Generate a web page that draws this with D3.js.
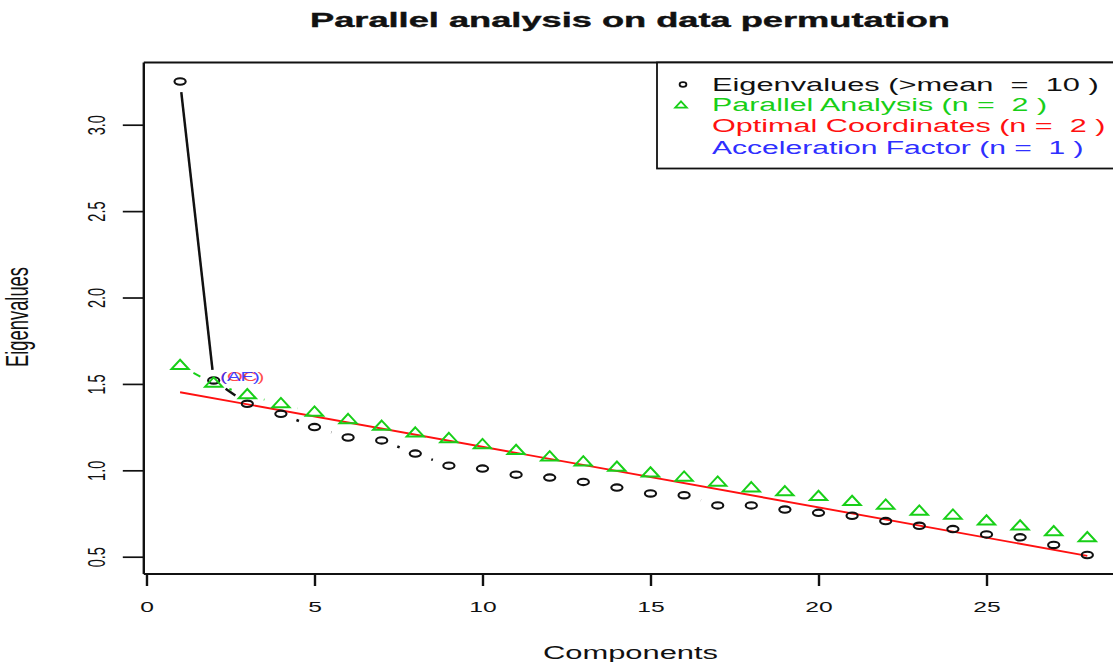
<!DOCTYPE html>
<html>
<head>
<meta charset="utf-8">
<script src="https://cdn.jsdelivr.net/npm/d3@7"></script>
<style>
  html, body { margin: 0; padding: 0; background: #fff; }
  svg { display: block; font-family: "Liberation Sans", Arial, sans-serif; }
  text { white-space: pre; }
</style>
</head>
<body>
<svg id="chart" width="1113" height="662"></svg>
<script>
// Scree data: observed eigenvalues and parallel-analysis means per component
const components = [1,2,3,4,5,6,7,8,9,10,11,12,13,14,15,16,17,18,19,20,21,22,23,24,25,26,27,28];
const eigenvalues = [3.25, 1.52, 1.385, 1.327, 1.25, 1.19, 1.173, 1.097, 1.027, 1.01,
                     0.975, 0.958, 0.933, 0.90, 0.866, 0.856, 0.797, 0.797, 0.773, 0.754,
                     0.737, 0.706, 0.679, 0.66, 0.629, 0.612, 0.568, 0.51];
const parallelAnalysis = [1.604, 1.502, 1.435, 1.383, 1.334, 1.291, 1.252, 1.213, 1.181, 1.146,
                          1.112, 1.075, 1.046, 1.015, 0.982, 0.958, 0.929, 0.896, 0.873, 0.846,
                          0.817, 0.796, 0.761, 0.738, 0.704, 0.675, 0.642, 0.607];
// Optimal-coordinates prediction line (end points)
const ocLineX = [1, 28];
const ocLineY = [1.452, 0.505];
// Position of the OC / AF annotations (component 2)
const noteComponent = 2;
const noteLabels = ["(OC)", "(AF)"];

const xTicks = [0, 5, 10, 15, 20, 25];
const yTicks = [0.5, 1.0, 1.5, 2.0, 2.5, 3.0];
const yTickLabels = ["0.5", "1.0", "1.5", "2.0", "2.5", "3.0"];

const titleText = "Parallel analysis on data permutation";
const xLabel = "Components";
const yLabel = "Eigenvalues";
const legendLabels = ["Eigenvalues (>mean  =  10 )", "Parallel Analysis (n =  2 )",
                      "Optimal Coordinates (n =  2 )", "Acceleration Factor (n =  1 )"];

// ---- layout ----
const SX = 1.7;                 // horizontal stretch of glyphs
const INK = "#111";
const GREEN = "#18cf18";
const RED = "#ff1010";
const BLUE = "#2f2fff";
const plot = { left: 143.8, right: 1123.6, top: 62.5, bottom: 574 };

const svg = d3.select("#chart");

const x = d3.scaleLinear().domain([-0.08, 29.08]).range([plot.left, plot.right]);
const y = d3.scaleLinear().domain([0.40, 3.36]).range([plot.bottom, plot.top]);

// connector segments with gaps around each point (type = "b")
function gappedSegments(pts, gap, sx) {
  const segs = [];
  for (let i = 0; i < pts.length - 1; i++) {
    const [x0, y0] = pts[i], [x1, y1] = pts[i + 1];
    const dx = x1 - x0, dy = y1 - y0;
    const d = Math.hypot(dx / sx, dy);
    if (d <= 2 * gap) continue;
    const t = gap / d;
    segs.push([x0 + dx * t, y0 + dy * t, x1 - dx * t, y1 - dy * t]);
  }
  return segs;
}

const eigPts = components.map((c, i) => [x(c), y(eigenvalues[i])]);
const paPts = components.map((c, i) => [x(c), y(parallelAnalysis[i])]);

// eigenvalue connectors
svg.append("g").selectAll("line")
  .data(gappedSegments(eigPts, 10.6, 1.8)).join("line")
  .attr("x1", d => d[0]).attr("y1", d => d[1]).attr("x2", d => d[2]).attr("y2", d => d[3])
  .attr("stroke", INK).attr("stroke-width", 2.5);

// parallel-analysis connectors
svg.append("g").selectAll("line")
  .data(gappedSegments(paPts, 10.2, 1.8)).join("line")
  .attr("x1", d => d[0]).attr("y1", d => d[1]).attr("x2", d => d[2]).attr("y2", d => d[3])
  .attr("stroke", GREEN).attr("stroke-width", 2);

// optimal coordinates line
svg.append("line")
  .attr("x1", x(ocLineX[0])).attr("y1", y(ocLineY[0]))
  .attr("x2", x(ocLineX[1])).attr("y2", y(ocLineY[1]))
  .attr("stroke", RED).attr("stroke-width", 1.9);

// eigenvalue markers (open circles)
svg.append("g").selectAll("ellipse")
  .data(components).join("ellipse")
  .attr("cx", d => x(d)).attr("cy", (d, i) => y(eigenvalues[i]))
  .attr("rx", 5.6).attr("ry", 3.2)
  .attr("fill", "none").attr("stroke", INK).attr("stroke-width", 2.1);

// parallel-analysis markers (open triangles)
const triPath = "M0,-6.2L8.6,3.1L-8.6,3.1Z";
svg.append("g").selectAll("path")
  .data(components).join("path")
  .attr("d", triPath)
  .attr("transform", (d, i) => `translate(${x(d)},${y(parallelAnalysis[i])})`)
  .attr("fill", "none").attr("stroke", GREEN).attr("stroke-width", 2);

// OC / AF annotations, drawn on top of each other
const noteX = x(noteComponent) + 6.5;
const noteY = y(eigenvalues[noteComponent - 1]) + 1;
[RED, BLUE].forEach((col, k) => {
  svg.append("text")
    .attr("transform", `translate(${noteX},${noteY}) scale(${SX},1)`)
    .attr("font-size", 12).attr("fill", col).attr("opacity", k ? 0.9 : 0.75)
    .text(noteLabels[k]);
});

// ---- axes ----
const xAxis = d3.axisBottom(x).tickValues(xTicks).tickSize(12).tickFormat(d3.format("d"));
const gx = svg.append("g").attr("transform", `translate(0,${plot.bottom})`).call(xAxis);
gx.select(".domain").remove();
gx.selectAll(".tick line").attr("stroke", INK).attr("stroke-width", 2.4);
gx.selectAll(".tick text")
  .attr("y", null).attr("dy", null)
  .attr("transform", `translate(0,38) scale(${SX},1)`)
  .attr("font-size", 14.5).attr("fill", INK)
  .attr("font-family", "Liberation Sans, Arial, sans-serif");

const yAxis = d3.axisLeft(y).tickValues(yTicks).tickSize(21).tickFormat((d, i) => yTickLabels[i]);
const gy = svg.append("g").attr("transform", `translate(${plot.left},0)`).call(yAxis);
gy.select(".domain").remove();
gy.selectAll(".tick line").attr("stroke", INK).attr("stroke-width", 1.7);
gy.selectAll(".tick text")
  .attr("x", null).attr("dy", null)
  .attr("text-anchor", "middle")
  .attr("transform", `translate(-39,0) scale(${SX},1) rotate(-90)`)
  .attr("font-size", 14.5).attr("fill", INK)
  .attr("font-family", "Liberation Sans, Arial, sans-serif");

// plot box
const box = svg.append("g").attr("stroke", INK).attr("fill", "none");
box.append("line").attr("x1", plot.left).attr("x2", plot.right).attr("y1", plot.top).attr("y2", plot.top).attr("stroke-width", 1.8);
box.append("line").attr("x1", plot.left).attr("x2", plot.right).attr("y1", plot.bottom).attr("y2", plot.bottom).attr("stroke-width", 1.8);
box.append("line").attr("x1", plot.left).attr("x2", plot.left).attr("y1", plot.top).attr("y2", plot.bottom).attr("stroke-width", 2.4);
box.append("line").attr("x1", plot.right).attr("x2", plot.right).attr("y1", plot.top).attr("y2", plot.bottom).attr("stroke-width", 2.4);

// ---- titles ----
svg.append("text")
  .attr("x", 630).attr("y", 27)
  .attr("text-anchor", "middle")
  .attr("font-size", 21).attr("font-weight", "bold").attr("fill", INK)
  .attr("stroke", INK).attr("stroke-width", 0.4)
  .attr("textLength", 640).attr("lengthAdjust", "spacingAndGlyphs")
  .text(titleText);

svg.append("text")
  .attr("x", 630.5).attr("y", 659)
  .attr("text-anchor", "middle")
  .attr("font-size", 18).attr("fill", INK)
  .attr("textLength", 175).attr("lengthAdjust", "spacingAndGlyphs")
  .text(xLabel);

svg.append("text")
  .attr("transform", `translate(28,317) scale(${SX},1) rotate(-90)`)
  .attr("text-anchor", "middle")
  .attr("font-size", 18).attr("fill", INK)
  .attr("textLength", 100).attr("lengthAdjust", "spacingAndGlyphs")
  .text(yLabel);

// ---- legend ----
const legend = svg.append("g");
legend.append("rect")
  .attr("x", 657).attr("y", plot.top).attr("width", 520).attr("height", 106)
  .attr("fill", "#fff").attr("stroke", INK).attr("stroke-width", 1.8);

const legendColors = [INK, GREEN, RED, BLUE];
const legendBaselines = [90.5, 111, 132, 153.5];
const legendSpans = [386.7, 335, 393.4, 371.6];
legend.selectAll("text.lab")
  .data(legendLabels).join("text")
  .attr("class", "lab")
  .attr("x", 712).attr("y", (d, i) => legendBaselines[i])
  .attr("font-size", 18)
  .attr("fill", (d, i) => legendColors[i])
  .attr("textLength", (d, i) => legendSpans[i]).attr("lengthAdjust", "spacingAndGlyphs")
  .text(d => d);

legend.append("ellipse")
  .attr("cx", 683).attr("cy", 84.5).attr("rx", 3.4).attr("ry", 2.3)
  .attr("fill", "none").attr("stroke", INK).attr("stroke-width", 1.8);
legend.append("path")
  .attr("d", "M0,-4.2L5.8,2.1L-5.8,2.1Z")
  .attr("transform", "translate(681,105.5)")
  .attr("fill", "none").attr("stroke", GREEN).attr("stroke-width", 1.8);
</script>
</body>
</html>
